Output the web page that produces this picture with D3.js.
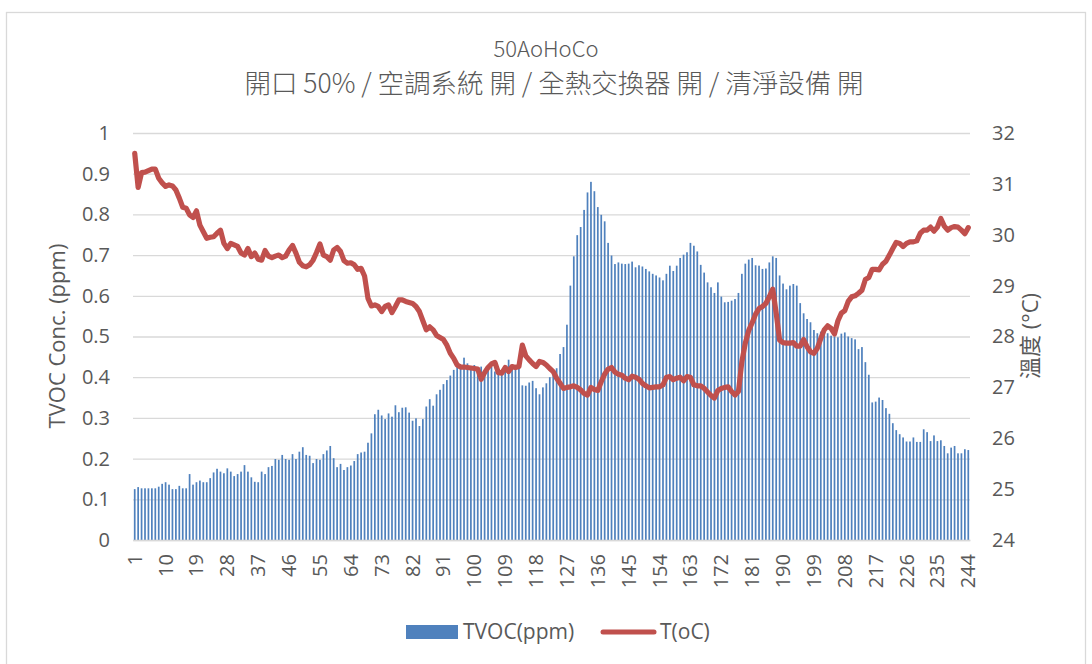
<!DOCTYPE html>
<html>
<head>
<meta charset="utf-8">
<script src="https://cdn.jsdelivr.net/npm/d3@7"></script>
<style>
  html, body { margin: 0; padding: 0; background: #fff; }
  svg { display: block; }
</style>
</head>
<body>
<svg id="chart" width="1092" height="664"></svg>
<script>
// Measurement index (1..244)
const categories = d3.range(1, 245);

// TVOC concentration (ppm) per measurement
const tvoc = [
  0.125,0.130,0.127,0.127,0.127,0.127,0.127,0.131,0.138,0.142,
  0.136,0.125,0.125,0.133,0.127,0.127,0.162,0.136,0.142,0.146,
  0.142,0.142,0.152,0.166,0.175,0.168,0.164,0.176,0.168,0.157,
  0.162,0.168,0.184,0.168,0.154,0.143,0.142,0.168,0.162,0.179,
  0.182,0.199,0.197,0.209,0.199,0.197,0.211,0.199,0.217,0.228,
  0.209,0.207,0.189,0.199,0.197,0.211,0.220,0.231,0.201,0.179,
  0.187,0.172,0.179,0.183,0.194,0.211,0.215,0.217,0.239,0.262,
  0.309,0.320,0.306,0.297,0.311,0.303,0.331,0.314,0.325,0.326,
  0.313,0.293,0.299,0.280,0.297,0.328,0.346,0.330,0.358,0.369,
  0.383,0.393,0.404,0.418,0.425,0.430,0.448,0.434,0.426,0.430,
  0.418,0.426,0.412,0.418,0.425,0.414,0.420,0.406,0.414,0.443,
  0.426,0.424,0.425,0.380,0.379,0.387,0.391,0.373,0.358,0.375,
  0.385,0.400,0.410,0.422,0.457,0.474,0.529,0.625,0.697,0.749,
  0.769,0.811,0.854,0.880,0.857,0.818,0.799,0.783,0.730,0.699,
  0.678,0.682,0.679,0.678,0.679,0.684,0.670,0.675,0.672,0.666,
  0.660,0.654,0.650,0.645,0.638,0.654,0.674,0.661,0.674,0.693,
  0.701,0.707,0.730,0.723,0.709,0.676,0.657,0.633,0.621,0.607,
  0.633,0.598,0.584,0.585,0.588,0.592,0.607,0.654,0.679,0.689,
  0.693,0.675,0.674,0.666,0.667,0.682,0.697,0.693,0.650,0.630,
  0.616,0.625,0.629,0.625,0.582,0.557,0.543,0.535,0.516,0.508,
  0.512,0.511,0.508,0.502,0.500,0.498,0.507,0.510,0.500,0.496,
  0.493,0.469,0.474,0.437,0.406,0.338,0.340,0.350,0.344,0.324,
  0.310,0.287,0.270,0.260,0.252,0.242,0.242,0.252,0.241,0.241,
  0.272,0.265,0.243,0.257,0.243,0.245,0.231,0.213,0.227,0.231,
  0.213,0.213,0.223,0.221
];

// Temperature (°C) per measurement
const temperature = [
  31.60,30.93,31.22,31.23,31.26,31.29,31.29,31.11,31.02,30.95,
  30.98,30.96,30.88,30.72,30.54,30.52,30.39,30.34,30.47,30.19,
  30.06,29.93,29.95,29.96,30.03,30.09,29.83,29.73,29.83,29.80,
  29.77,29.64,29.60,29.73,29.57,29.64,29.52,29.50,29.69,29.58,
  29.55,29.58,29.60,29.55,29.58,29.70,29.79,29.64,29.46,29.39,
  29.37,29.41,29.50,29.65,29.82,29.60,29.57,29.50,29.70,29.75,
  29.67,29.49,29.44,29.45,29.41,29.32,29.34,29.19,28.75,28.60,
  28.62,28.59,28.49,28.59,28.62,28.47,28.59,28.72,28.72,28.69,
  28.67,28.65,28.59,28.49,28.31,28.13,28.19,28.13,28.02,27.98,
  27.94,27.83,27.67,27.57,27.44,27.40,27.40,27.39,27.38,27.37,
  27.36,27.16,27.29,27.39,27.46,27.49,27.29,27.28,27.39,27.31,
  27.41,27.39,27.41,27.83,27.62,27.54,27.47,27.41,27.51,27.49,
  27.44,27.37,27.31,27.18,27.08,26.98,27.00,27.01,27.03,27.00,
  26.95,26.88,26.85,27.00,26.96,26.94,27.11,27.26,27.36,27.39,
  27.30,27.26,27.24,27.18,27.15,27.22,27.20,27.16,27.08,27.03,
  26.99,27.00,27.01,27.01,27.05,27.20,27.21,27.15,27.18,27.20,
  27.13,27.21,27.20,27.05,27.03,27.03,26.98,26.91,26.84,26.79,
  26.94,26.98,27.00,27.01,26.92,26.85,26.92,27.51,27.87,28.12,
  28.27,28.44,28.55,28.59,28.65,28.78,28.93,28.46,27.93,27.88,
  27.87,27.87,27.88,27.81,27.81,27.94,27.80,27.70,27.67,27.77,
  27.96,28.13,28.21,28.16,28.05,28.31,28.46,28.51,28.69,28.78,
  28.80,28.85,28.91,29.12,29.16,29.32,29.32,29.31,29.42,29.48,
  29.60,29.73,29.85,29.83,29.77,29.83,29.86,29.86,29.88,30.03,
  30.09,30.09,30.15,30.07,30.15,30.32,30.17,30.09,30.14,30.16,
  30.15,30.09,30.02,30.14
];

// Axis ticks and labels
const leftTicks = [0, 0.1, 0.2, 0.3, 0.4, 0.5, 0.6, 0.7, 0.8, 0.9, 1];
const leftTickLabels = ["0", "0.1", "0.2", "0.3", "0.4", "0.5", "0.6", "0.7", "0.8", "0.9", "1"];
const rightTicks = [24, 25, 26, 27, 28, 29, 30, 31, 32];
const xTickLabels = categories.filter(d => (d - 1) % 9 === 0);

const titleText = "50AoHoCo";
const subtitleText = "開口 50% / 空調系統 開 / 全熱交換器 開 / 清淨設備 開";
const leftAxisTitle = "TVOC Conc. (ppm)";
const rightAxisTitle = "溫度 (°C)";
const seriesNames = ["TVOC(ppm)", "T(oC)"];

const barColor = "#4f81bd";
const lineColor = "#c0504d";
const textColor = "#595959";
const gridColor = "#d9d9d9";
const latinFont = "'Open Sans', 'Noto Sans CJK TC', sans-serif";
const cjkFont = "'Noto Sans CJK TC', 'Open Sans', sans-serif";

const svg = d3.select("#chart");
const plot = { left: 133, right: 970, top: 133, bottom: 540 };

// Outer chart frame
svg.append("rect")
  .attr("x", 6.5).attr("y", 12.5)
  .attr("width", 1079).attr("height", 700)
  .attr("fill", "#fff")
  .attr("stroke", gridColor).attr("stroke-width", 1.3);

// Scales
const x = d3.scaleBand()
  .domain(categories)
  .range([plot.left, plot.right])
  .paddingInner(0.5)
  .paddingOuter(0.25);
const yLeft = d3.scaleLinear().domain([0, 1]).range([plot.bottom, plot.top]);
const yRight = d3.scaleLinear().domain([24, 32]).range([plot.bottom, plot.top]);

// Horizontal gridlines
const grid = svg.append("g")
  .attr("transform", `translate(${plot.left},0)`)
  .call(d3.axisLeft(yLeft).tickValues(leftTicks).tickSize(-(plot.right - plot.left)).tickFormat(""));
grid.select(".domain").remove();
grid.selectAll(".tick line").attr("stroke", gridColor).attr("stroke-width", 1.3);

// Left axis labels
const leftAxis = svg.append("g")
  .attr("transform", `translate(${plot.left},0)`)
  .call(d3.axisLeft(yLeft).tickValues(leftTicks).tickSize(0).tickPadding(23)
    .tickFormat((d, i) => leftTickLabels[i]));
leftAxis.select(".domain").remove();
leftAxis.selectAll("text")
  .attr("fill", textColor).style("font-family", latinFont).style("font-size", "20px");

// Right axis labels
const rightAxis = svg.append("g")
  .attr("transform", `translate(${plot.right},0)`)
  .call(d3.axisRight(yRight).tickValues(rightTicks).tickSize(0).tickPadding(22)
    .tickFormat(d3.format("d")));
rightAxis.select(".domain").remove();
rightAxis.selectAll("text")
  .attr("fill", textColor).style("font-family", latinFont).style("font-size", "20px");

// Bars
svg.append("g")
  .selectAll("rect")
  .data(categories)
  .join("rect")
  .attr("x", d => x(d))
  .attr("width", x.bandwidth())
  .attr("y", (d, i) => yLeft(tvoc[i]))
  .attr("height", (d, i) => yLeft(0) - yLeft(tvoc[i]))
  .attr("fill", barColor);

// Category axis line and labels
const xAxis = svg.append("g")
  .attr("transform", `translate(0,${plot.bottom})`)
  .call(d3.axisBottom(x).tickValues(xTickLabels).tickSize(0).tickSizeOuter(0));
xAxis.select(".domain").attr("stroke", gridColor).attr("stroke-width", 1.3);
xAxis.selectAll(".tick text")
  .attr("fill", textColor)
  .style("font-family", latinFont).style("font-size", "20px")
  .attr("text-anchor", "end")
  .attr("transform", "translate(0,14) rotate(-90)")
  .attr("x", 0).attr("y", 0).attr("dy", "0.35em");

// Temperature line
const line = d3.line()
  .x((d, i) => x(categories[i]) + x.bandwidth() / 2)
  .y(d => yRight(d));
svg.append("path")
  .datum(temperature)
  .attr("d", line)
  .attr("fill", "none")
  .attr("stroke", lineColor)
  .attr("stroke-width", 5.2)
  .attr("stroke-linejoin", "round")
  .attr("stroke-linecap", "round");

// Titles
svg.append("text")
  .attr("x", 546).attr("y", 57)
  .attr("text-anchor", "middle")
  .attr("fill", textColor)
  .style("font-family", cjkFont).style("font-size", "22px").style("font-weight", 300)
  .text(titleText);
svg.append("text")
  .attr("x", 554).attr("y", 93)
  .attr("text-anchor", "middle")
  .attr("fill", textColor)
  .style("font-family", cjkFont).style("font-size", "26.5px").style("font-weight", 300)
  .text(subtitleText);

// Axis titles
svg.append("text")
  .attr("transform", `translate(57,336) rotate(-90)`)
  .attr("text-anchor", "middle").attr("dy", "0.35em")
  .attr("fill", textColor)
  .style("font-family", latinFont).style("font-size", "22px")
  .text(leftAxisTitle);
svg.append("text")
  .attr("transform", `translate(1030,336) rotate(-90)`)
  .attr("text-anchor", "middle").attr("dy", "0.35em")
  .attr("fill", textColor)
  .style("font-family", latinFont).style("font-size", "22px")
  .text(rightAxisTitle);

// Legend
const legend = svg.append("g");
legend.append("rect")
  .attr("x", 406).attr("y", 625).attr("width", 52).attr("height", 14)
  .attr("fill", barColor);
legend.append("text")
  .attr("x", 463).attr("y", 639)
  .attr("fill", textColor)
  .style("font-family", latinFont).style("font-size", "21px")
  .text(seriesNames[0]);
legend.append("line")
  .attr("x1", 603).attr("x2", 654).attr("y1", 632).attr("y2", 632)
  .attr("stroke", lineColor).attr("stroke-width", 5).attr("stroke-linecap", "round");
legend.append("text")
  .attr("x", 660).attr("y", 639)
  .attr("fill", textColor)
  .style("font-family", latinFont).style("font-size", "21px")
  .text(seriesNames[1]);
</script>
</body>
</html>
